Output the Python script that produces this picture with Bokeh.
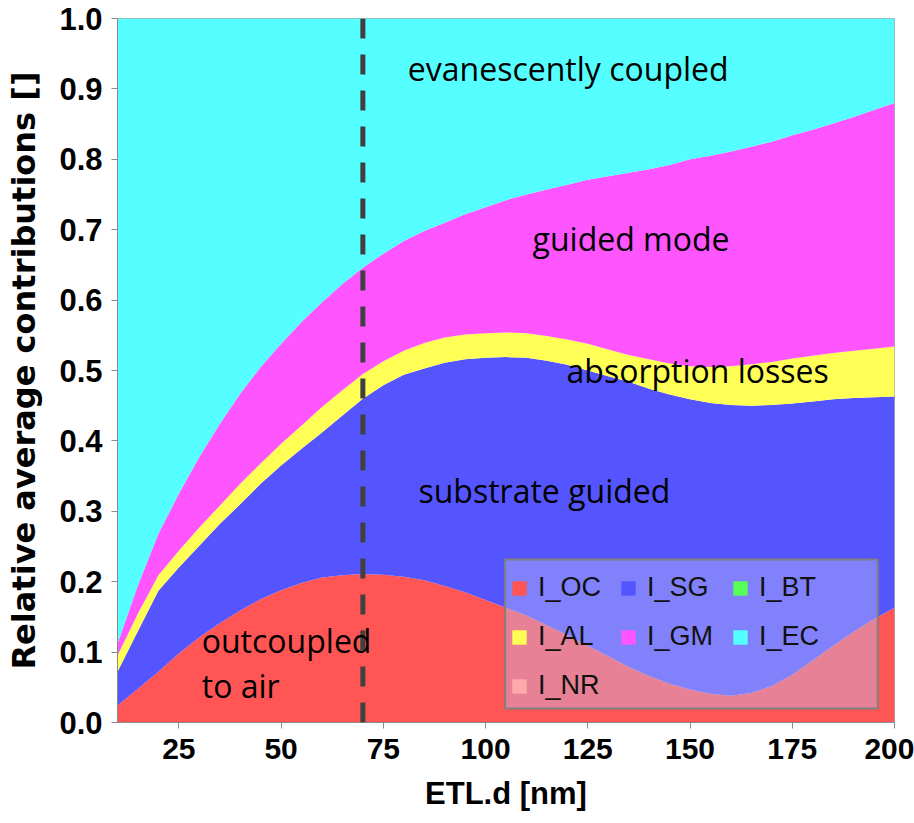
from bokeh.plotting import figure
from bokeh.models import (ColumnDataSource, Legend, LegendItem, Span, Label, FixedTicker,
                          BoxAnnotation, CustomJSTickFormatter)
from bokeh.embed import file_html
from bokeh.resources import INLINE

# ETL thickness [nm]
etl_d = [10, 15, 20, 25, 30, 35, 40, 45, 50, 55, 60, 65, 70, 75, 80, 85, 90, 95, 100,
         105, 110, 115, 120, 125, 130, 135, 140, 145, 150, 155, 160, 165, 170, 175, 180,
         185, 190, 195, 200]

# relative average contributions (stacked in this order)
I_OC = [0.024, 0.048, 0.072, 0.098, 0.121, 0.141, 0.159, 0.175, 0.188, 0.198, 0.206, 0.209,
        0.211, 0.210, 0.207, 0.202, 0.194, 0.185, 0.174, 0.163, 0.152, 0.138, 0.124, 0.109,
        0.094, 0.079, 0.066, 0.055, 0.047, 0.041, 0.038, 0.042, 0.052, 0.068, 0.088, 0.109,
        0.129, 0.147, 0.163]
I_SG = [0.048, 0.082, 0.115, 0.122, 0.130, 0.141, 0.151, 0.164, 0.177, 0.191, 0.206, 0.227,
        0.249, 0.269, 0.287, 0.301, 0.317, 0.331, 0.344, 0.356, 0.366, 0.376, 0.384, 0.391,
        0.398, 0.405, 0.408, 0.411, 0.412, 0.413, 0.413, 0.408, 0.399, 0.385, 0.368, 0.350,
        0.332, 0.315, 0.300]
I_BT = [0.0] * 39
I_AL = [0.023, 0.025, 0.022, 0.024, 0.026, 0.026, 0.029, 0.029, 0.031, 0.033, 0.036, 0.036,
        0.035, 0.034, 0.034, 0.036, 0.036, 0.035, 0.035, 0.035, 0.035, 0.035, 0.036, 0.038,
        0.038, 0.038, 0.042, 0.044, 0.047, 0.051, 0.055, 0.059, 0.061, 0.064, 0.065, 0.066,
        0.067, 0.069, 0.071]
I_GM = [0.017, 0.040, 0.059, 0.081, 0.100, 0.116, 0.128, 0.137, 0.142, 0.147, 0.149, 0.151,
        0.151, 0.153, 0.156, 0.159, 0.163, 0.171, 0.179, 0.188, 0.197, 0.208, 0.220, 0.233,
        0.246, 0.259, 0.270, 0.282, 0.294, 0.300, 0.305, 0.309, 0.313, 0.317, 0.321, 0.326,
        0.332, 0.339, 0.346]
I_EC = [0.888, 0.805, 0.732, 0.675, 0.623, 0.576, 0.533, 0.495, 0.462, 0.431, 0.403, 0.377,
        0.354, 0.334, 0.316, 0.302, 0.290, 0.278, 0.268, 0.258, 0.250, 0.243, 0.236, 0.229,
        0.224, 0.219, 0.214, 0.208, 0.200, 0.195, 0.189, 0.182, 0.175, 0.166, 0.158, 0.149,
        0.140, 0.130, 0.120]
I_NR = [0.0] * 39

series_names = ["I_OC", "I_SG", "I_BT", "I_AL", "I_GM", "I_EC", "I_NR"]
series_colors = ["#ff5555", "#5555ff", "#55ff55", "#ffff55", "#ff55ff", "#55ffff", "#ffaaaa"]

x_ticks = [25, 50, 75, 100, 125, 150, 175, 200]
y_ticks = [0.0, 0.1, 0.2, 0.3, 0.4, 0.5, 0.6, 0.7, 0.8, 0.9, 1.0]

marker_d = 70

annotations = [
    ("evanescently coupled", 81, 0.929),
    ("guided mode", 111.5, 0.6875),
    ("absorption losses", 119.8, 0.50),
    ("substrate guided", 83.6, 0.33),
    ("outcoupled", 30.6, 0.116),
    ("to air", 30.6, 0.052),
]

src = ColumnDataSource(dict(x=etl_d, I_OC=I_OC, I_SG=I_SG, I_BT=I_BT, I_AL=I_AL,
                            I_GM=I_GM, I_EC=I_EC, I_NR=I_NR))

p = figure(width=914, height=823, x_range=(10, 200), y_range=(0, 1),
           output_backend="svg", toolbar_location=None)
p.min_border_left = 117
p.min_border_right = 20
p.min_border_top = 18
p.min_border_bottom = 101
p.xgrid.visible = False
p.ygrid.visible = False
p.outline_line_color = "#aaaaaa"
p.background_fill_color = "white"
p.border_fill_color = "white"

rs = p.varea_stack(stackers=series_names, x="x", color=series_colors, source=src)

p.add_layout(Span(location=marker_d, dimension="height", line_color="#404040",
                  line_width=5, line_dash="20 16"))

for txt, xx, yy in annotations:
    p.add_layout(Label(x=xx, y=yy, text=txt, text_font="Open Sans", text_font_size="32px",
                       text_color="black", text_align="left", text_baseline="middle"))

# legend frame (semi-transparent box)
p.add_layout(BoxAnnotation(left=104.8, right=195.9, bottom=0.02, top=0.2315,
                           fill_color="#c3c3f5", fill_alpha=0.4,
                           line_color="#808080", line_width=2, line_alpha=1.0))

items = [LegendItem(label=n, renderers=[r]) for n, r in zip(series_names, rs)]
legend = Legend(items=items, location=(393, 21), orientation="horizontal", ncols=3,
                label_text_font="Liberation Sans", label_text_font_size="27px",
                label_text_color="#111111", glyph_width=18, glyph_height=18,
                label_standoff=10, spacing=18, padding=6, margin=0,
                background_fill_alpha=0.0, border_line_color=None)
p.add_layout(legend)

p.xaxis.ticker = FixedTicker(ticks=x_ticks)
p.yaxis.ticker = FixedTicker(ticks=y_ticks)
p.yaxis.formatter = CustomJSTickFormatter(code="return tick.toFixed(1);")

for ax in (p.xaxis, p.yaxis):
    ax.axis_line_color = "#888888"
    ax.major_tick_line_color = "#888888"
    ax.major_tick_out = 6
    ax.major_tick_in = 0
    ax.minor_tick_line_color = None
    ax.major_label_text_color = "black"
    ax.major_label_text_font = "Liberation Sans"
    ax.major_label_text_font_style = "bold"
    ax.axis_label_text_font_style = "bold"
    ax.axis_label_text_color = "black"

p.xaxis.major_label_text_font_size = "30px"
p.xaxis.major_label_standoff = 10
p.xaxis.axis_label = "ETL.d [nm]"
p.xaxis.axis_label_text_font = "Liberation Sans"
p.xaxis.axis_label_text_font_size = "31px"
p.xaxis.axis_label_standoff = 14

p.yaxis.major_label_text_font_size = "31px"
p.yaxis.major_label_standoff = 9
p.yaxis.axis_label = "Relative average contributions []"
p.yaxis.axis_label_text_font = "DejaVu Sans"
p.yaxis.axis_label_text_font_size = "32px"
p.yaxis.axis_label_standoff = 13

open("out.html", "w").write(file_html(p, INLINE))
